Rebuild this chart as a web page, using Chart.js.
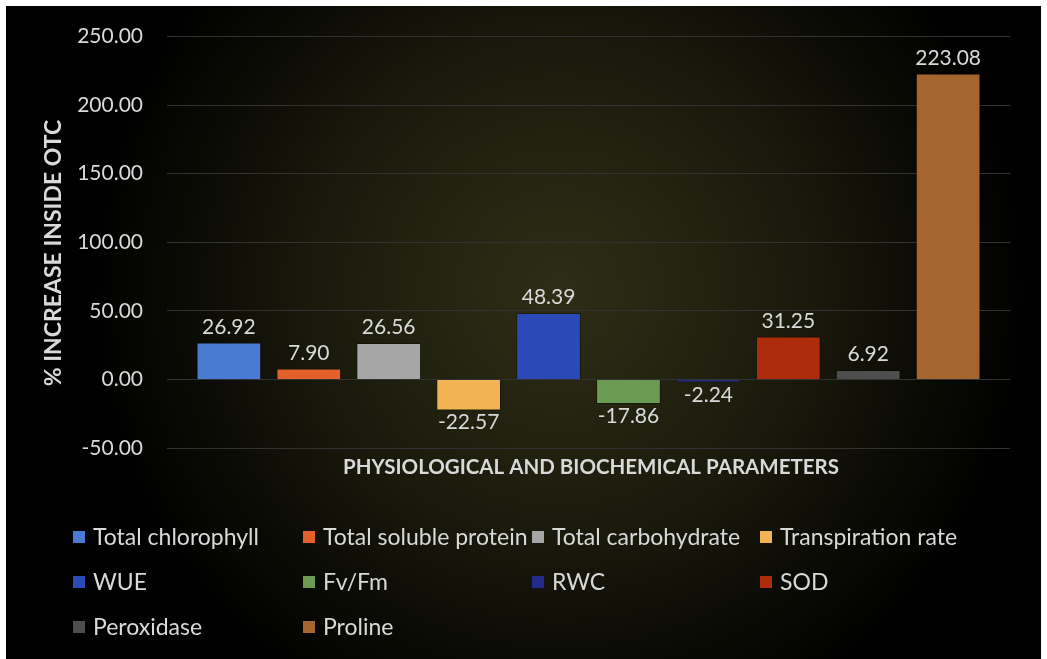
<!DOCTYPE html>
<html>
<head>
<meta charset="utf-8">
<script src="https://cdn.jsdelivr.net/npm/chart.js@4/dist/chart.umd.min.js"></script>
<style>
  html, body { margin: 0; padding: 0; background: #ffffff; }
  #wrap { position: relative; width: 1047px; height: 659px; }
</style>
</head>
<body>
<div id="wrap"><canvas id="c" width="1047" height="659"></canvas></div>
<script>
// Parameters measured and their % change inside the OTC
const parameters = ['Total chlorophyll', 'Total soluble protein', 'Total carbohydrate', 'Transpiration rate',
                    'WUE', 'Fv/Fm', 'RWC', 'SOD', 'Peroxidase', 'Proline'];
const percentIncrease = [26.92, 7.90, 26.56, -22.57, 48.39, -17.86, -2.24, 31.25, 6.92, 223.08];
const barColors = ['#4a7bd2', '#e4602a', '#a6a6a6', '#f2b452', '#2b4ab8', '#6b9a52', '#222a8c', '#ac2c0c', '#4e4e4e', '#a4652e'];
const yTicks = [-50, 0, 50, 100, 150, 200, 250];

const yTitle = '% INCREASE INSIDE OTC';
const xTitle = 'PHYSIOLOGICAL AND BIOCHEMICAL PARAMETERS';

const FONT = 'Lato, "Open Sans", sans-serif';
const TEXT = '#d9d9d9';

// Black panel with a soft olive glow in the middle, inside a thin white frame
const backdrop = {
  id: 'backdrop',
  beforeDraw(chart) {
    const ctx = chart.ctx;
    ctx.save();
    ctx.fillStyle = '#ffffff';
    ctx.fillRect(0, 0, chart.width, chart.height);
    const g = ctx.createRadialGradient(560, 290, 0, 560, 290, 470);
    g.addColorStop(0, '#2e2e16');
    g.addColorStop(0.45, '#1d1d0e');
    g.addColorStop(1, '#000000');
    ctx.fillStyle = g;
    ctx.fillRect(6, 6, 1035, 653);
    ctx.restore();
  }
};

// Value labels: above positive bars, below negative ones
const valueLabels = {
  id: 'valueLabels',
  afterDatasetsDraw(chart) {
    const ctx = chart.ctx;
    ctx.save();
    ctx.font = '21px ' + FONT;
    ctx.fillStyle = TEXT;
    ctx.textAlign = 'center';
    ctx.textBaseline = 'alphabetic';
    chart.data.datasets.forEach((ds, i) => {
      const bar = chart.getDatasetMeta(i).data[0];
      const v = ds.data[0];
      if (v >= 0) {
        ctx.fillText(v.toFixed(2), bar.x, bar.y - 9);
      } else {
        ctx.fillText(v.toFixed(2), bar.x, bar.y + 19);
      }
    });
    ctx.restore();
  }
};

// Axis titles and the four-column legend
const annotations = {
  id: 'annotations',
  afterDraw(chart) {
    const ctx = chart.ctx;
    ctx.save();
    ctx.fillStyle = TEXT;
    ctx.textAlign = 'center';
    ctx.textBaseline = 'middle';
    ctx.save();
    ctx.font = 'bold 23px ' + FONT;
    ctx.translate(54, 253);
    ctx.rotate(-Math.PI / 2);
    ctx.fillText(yTitle, 0, 0);
    ctx.restore();
    ctx.font = 'bold 20.5px ' + FONT;
    ctx.fillText(xTitle, 591, 467);

    const colX = [73, 303, 532, 760];
    const rowY = [537, 582, 627];
    ctx.font = '23px ' + FONT;
    ctx.textAlign = 'left';
    chart.data.datasets.forEach((ds, i) => {
      const x = colX[i % 4];
      const y = rowY[Math.floor(i / 4)];
      ctx.fillStyle = ds.backgroundColor;
      ctx.fillRect(x, y - 6, 12, 12);
      ctx.fillStyle = TEXT;
      ctx.fillText(ds.label, x + 20, y + 1);
    });
    ctx.restore();
  }
};

const datasets = parameters.map((name, i) => ({
  label: name,
  data: [percentIncrease[i]],
  backgroundColor: barColors[i],
  borderColor: 'rgba(0,0,0,0.35)',
  borderWidth: 1,
  barPercentage: 0.81,
  categoryPercentage: 0.948
}));

new Chart(document.getElementById('c'), {
  type: 'bar',
  data: { labels: [''], datasets },
  options: {
    responsive: false,
    animation: false,
    layout: { padding: { left: 6, top: 35, right: 37, bottom: 211 } },
    plugins: { legend: { display: false }, tooltip: { enabled: false } },
    scales: {
      x: { display: false },
      y: {
        min: -50,
        max: 250,
        afterFit(scale) { scale.width = 161; },
        afterBuildTicks(scale) { scale.ticks = yTicks.map(v => ({ value: v })); },
        ticks: {
          color: TEXT,
          padding: 24,
          font: { family: FONT, size: 21 },
          callback: v => Number(v).toFixed(2)
        },
        grid: { color: '#323232', lineWidth: 1, drawTicks: false },
        border: { display: false }
      }
    }
  },
  plugins: [backdrop, valueLabels, annotations]
});
</script>
</body>
</html>
